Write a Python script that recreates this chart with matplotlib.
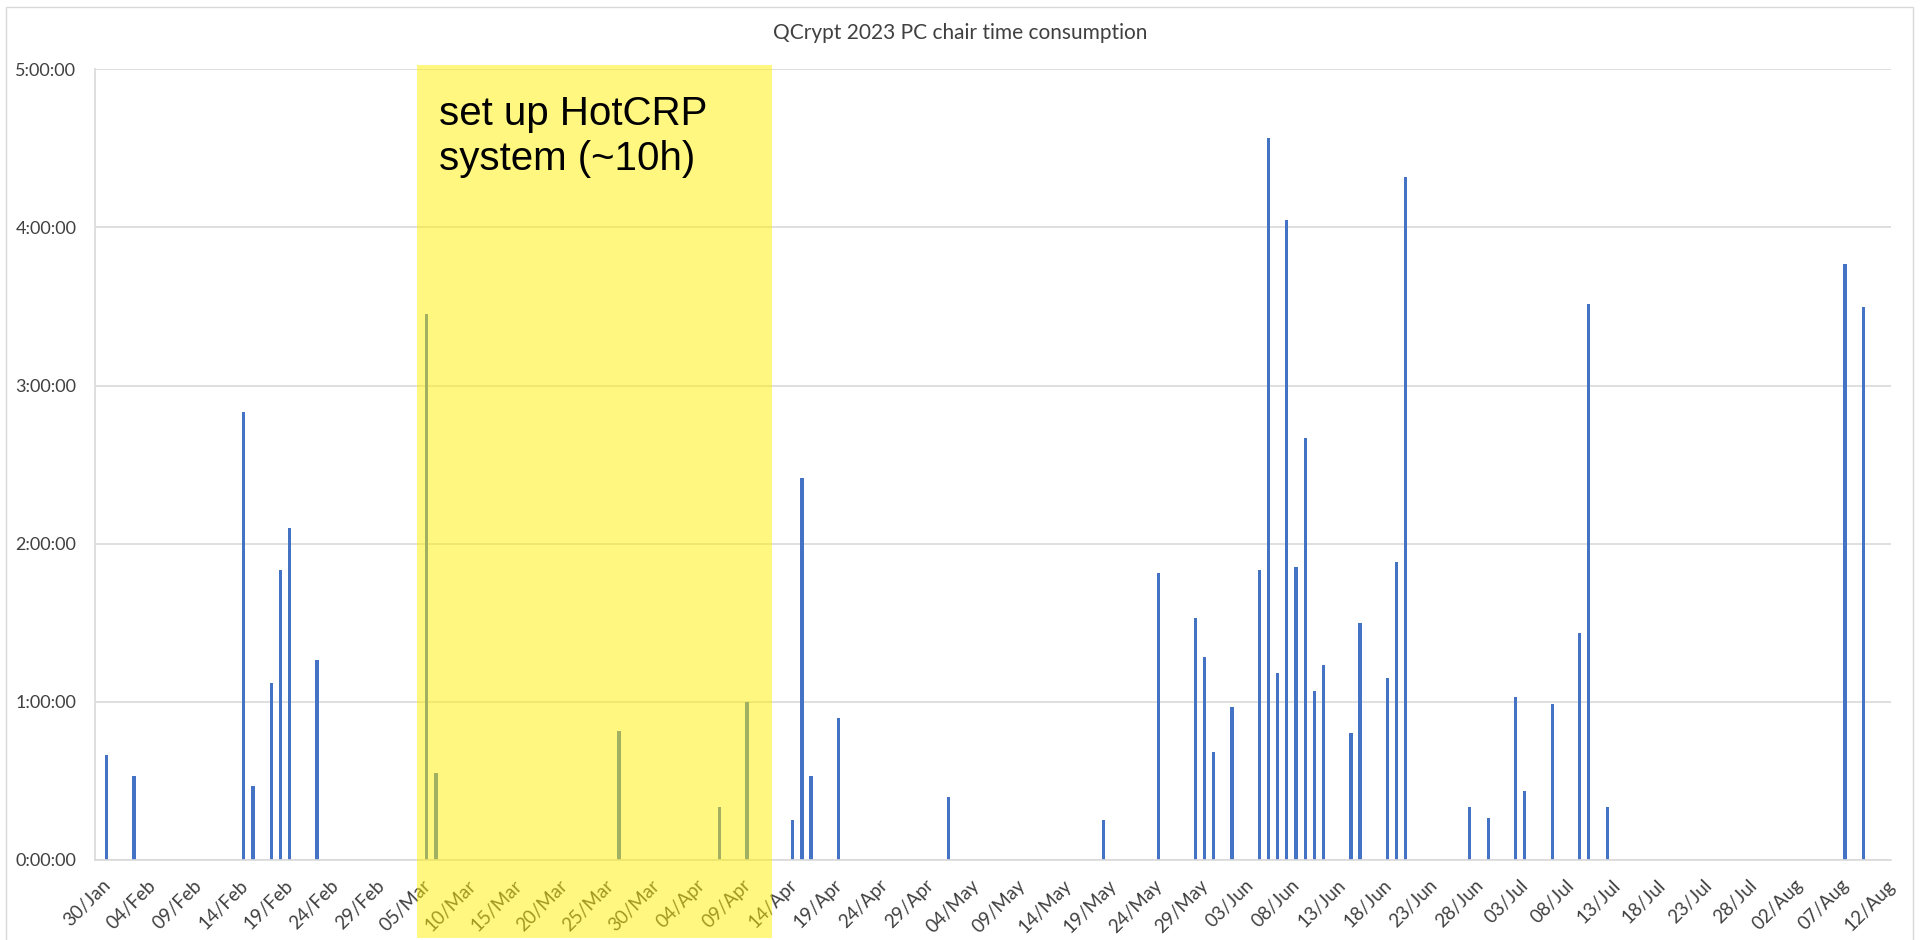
import numpy as np
import pandas as pd
import matplotlib.pyplot as plt
import matplotlib.dates as mdates
import matplotlib.patches as patches
import matplotlib.transforms as mtransforms

# daily time spent (minutes) per date
days = ['2024-01-30', '2024-02-02', '2024-02-14', '2024-02-15', '2024-02-17',
        '2024-02-18', '2024-02-19', '2024-02-22', '2024-03-05', '2024-03-06',
        '2024-03-26', '2024-04-06', '2024-04-09', '2024-04-14', '2024-04-15',
        '2024-04-16', '2024-04-19', '2024-05-01', '2024-05-18', '2024-05-24',
        '2024-05-28', '2024-05-29', '2024-05-30', '2024-06-01', '2024-06-04',
        '2024-06-05', '2024-06-06', '2024-06-07', '2024-06-08', '2024-06-09',
        '2024-06-10', '2024-06-11', '2024-06-14', '2024-06-15', '2024-06-18',
        '2024-06-19', '2024-06-20', '2024-06-27', '2024-06-29', '2024-07-02',
        '2024-07-03', '2024-07-06', '2024-07-09', '2024-07-10', '2024-07-12',
        '2024-08-07', '2024-08-09']
minutes = [40, 32, 170, 28, 67,
           110, 126, 76, 207, 33,
           49, 20, 60, 15, 145,
           32, 54, 24, 15, 109,
           92, 77, 41, 58, 110,
           274, 71, 243, 111, 160,
           64, 74, 48, 90, 69,
           113, 259, 20, 16, 62,
           26, 59, 86, 211, 20,
           226, 210]

first_tick = '2024-01-30'
title = 'QCrypt 2023 PC chair time consumption'
note = 'set up HotCRP\nsystem (~10h)'

W, H = 1920, 940
txt = '#404040'
fig = plt.figure(figsize=(W / 100, H / 100), dpi=100)
ax = fig.add_axes([95 / W, 1 - 860 / H, (1890.75 - 95) / W, (860 - 69.3) / H])

x = mdates.date2num(pd.to_datetime(days))
hours = np.array(minutes) / 60.0
ax.bar(x, hours, width=0.35, color='#4472C4', zorder=2)

start = mdates.date2num(pd.Timestamp(first_tick))
ax.set_xlim(start - 1.26, start + 195)
ax.set_ylim(0, 5)
ax.set_xticks(start + np.arange(0, 196, 5))
ax.xaxis.set_major_formatter(mdates.DateFormatter('%d/%b'))
ax.set_yticks(range(6))
ax.set_yticklabels(['%d:00:00' % h for h in range(6)])

ax.grid(axis='y', color='#D9D9D9', lw=1.2, zorder=0)
ax.set_axisbelow(True)
for s in ['top', 'right']:
    ax.spines[s].set_visible(False)
for s in ['left', 'bottom']:
    ax.spines[s].set_color('#D9D9D9')
    ax.spines[s].set_linewidth(1.2)

ax.tick_params(axis='both', length=0, colors=txt)
ax.tick_params(axis='y', pad=13.5, labelsize=13)
ax.tick_params(axis='x', pad=12, labelsize=13.5)
shift = mtransforms.ScaledTranslation(-0.05, 0, fig.dpi_scale_trans)
for lab in ax.get_xticklabels():
    lab.set_rotation(45)
    lab.set_ha('right')
    lab.set_va('top')
    lab.set_rotation_mode('anchor')
    lab.set_fontfamily('Lato')
    lab.set_transform(lab.get_transform() + shift)
for lab in ax.get_yticklabels():
    lab.set_fontfamily('Lato')

fig.text(960 / W, 1 - 33 / H, title, ha='center', va='center',
         fontsize=15, color=txt, family='Lato')

# chart border
fig.add_artist(patches.Rectangle((6 / W, -0.02), (1913 - 6) / W, 1.02 - 7 / H,
                                 transform=fig.transFigure, fill=False,
                                 edgecolor='#D9D9D9', lw=1))

# highlighted period
fig.add_artist(patches.Rectangle((417.3 / W, 1 - 938 / H), (772.3 - 417.3) / W,
                                 (938 - 64.7) / H, transform=fig.transFigure,
                                 facecolor=(1, 240 / 255, 0), alpha=0.5,
                                 edgecolor='none', zorder=10))
fig.text(439 / W, 1 - 95 / H, note, ha='left', va='top', fontsize=29,
         family='Liberation Sans', color='black', linespacing=1.25, zorder=11)

fig.savefig('out.png', dpi=100, facecolor='white')
